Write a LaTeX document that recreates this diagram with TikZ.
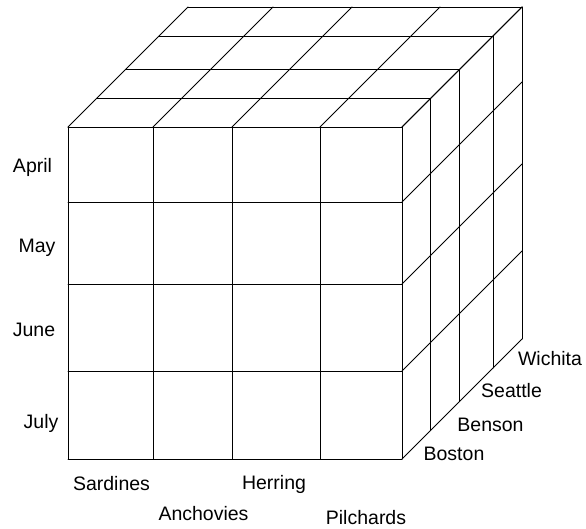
\documentclass[tikz,border=0pt]{standalone}
\usepackage{fontspec}
\setmainfont{Liberation Sans}
\begin{document}
\begin{tikzpicture}[x=1pt,y=-1pt,
  gridline/.style={line width=0.95pt,black,line cap=round,line join=round},
  lbl/.style={anchor=base,inner sep=0pt,font=\fontsize{19.5}{23}\selectfont}]
\useasboundingbox (0,0) rectangle (586,528);
% front face
\foreach \x in {68,153,232,320,402} \draw[gridline] (\x,127) -- (\x,459);
\foreach \y in {127,202,284,371,459} \draw[gridline] (68,\y) -- (402,\y);
% depth layers
\foreach \d in {28.5,57.5,91,120} {
  \draw[gridline] (68+\d,127-\d) -- (402+\d,127-\d);
  \draw[gridline] (402+\d,127-\d) -- (402+\d,459-\d);
}
% top diagonals
\foreach \x in {68,153,232,320,402} \draw[gridline] (\x,127) -- (\x+120,7);
% right diagonals
\foreach \y in {127,202,284,371,459} \draw[gridline] (402,\y) -- (522,\y-120);
% labels
\node[lbl] (apr) at (32.5,172) {April};
\node[lbl] (may) at (37,252) {May};
\node[lbl] (jun) at (34,336) {June};
\node[lbl] (jul) at (41,428) {July};
\node[lbl] (sar) at (111.5,490) {Sardines};
\node[lbl] (anc) at (203.5,520) {Anchovies};
\node[lbl] (her) at (274,489) {Herring};
\node[lbl] (pil) at (366,524) {Pilchards};
\node[lbl] (bos) at (454,460) {Boston};
\node[lbl] (ben) at (490.5,431) {Benson};
\node[lbl] (sea) at (511.5,397) {Seattle};
\node[lbl] (wic) at (550,365) {Wichita};
\end{tikzpicture}
\end{document}
